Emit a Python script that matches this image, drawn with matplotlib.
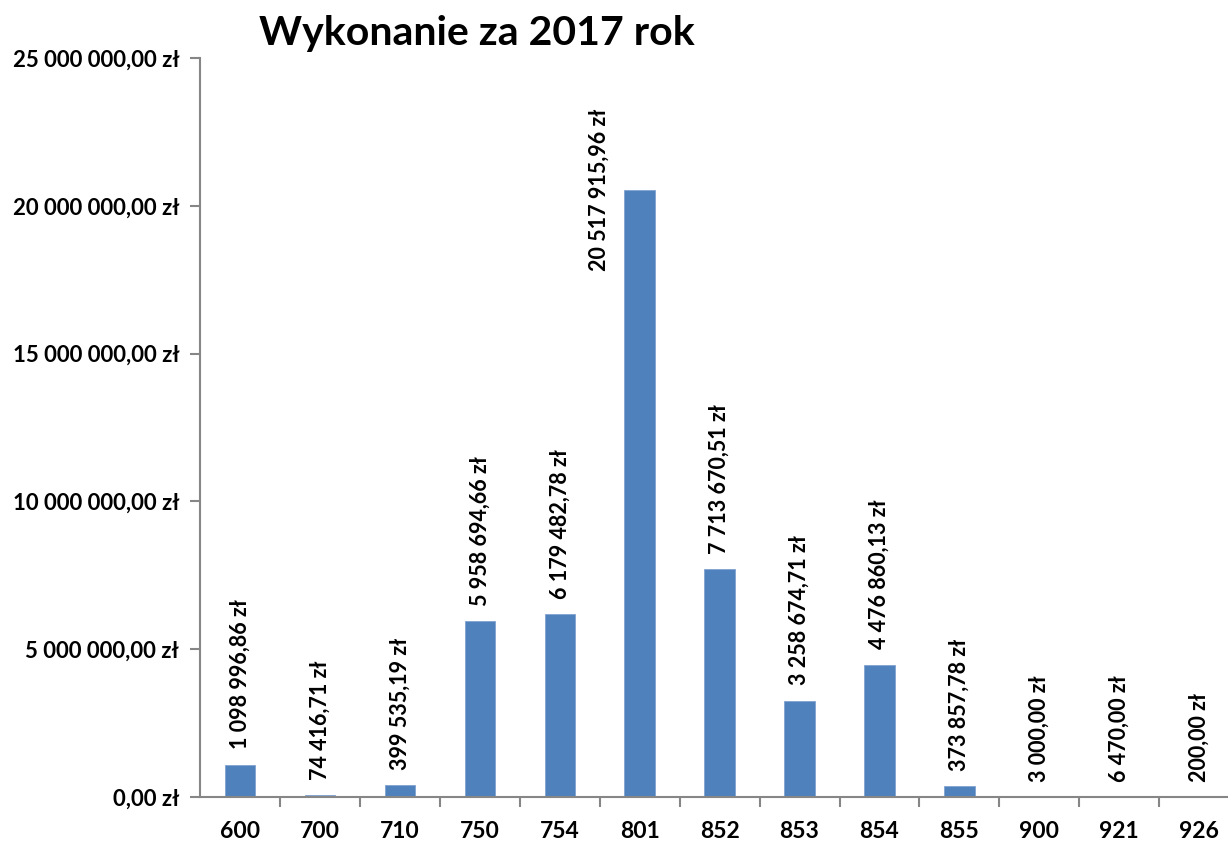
import matplotlib
matplotlib.use("Agg")
import matplotlib.pyplot as plt
from matplotlib.ticker import FuncFormatter, MultipleLocator

# dane
kategorie = ["600", "700", "710", "750", "754", "801", "852", "853", "854", "855", "900", "921", "926"]
wartosci = [1098996.86, 74416.71, 399535.19, 5958694.66, 6179482.78, 20517915.96,
            7713670.51, 3258674.71, 4476860.13, 373857.78, 3000.00, 6470.00, 200.00]
tytul = "Wykonanie za 2017 rok"

plt.rcParams['font.family'] = ['Lato', 'DejaVu Sans']
plt.rcParams['font.weight'] = 'bold'


def zl(v, pos=None):
    s = f"{v:,.2f}".replace(",", " ").replace(".", ",")
    return s + " zł"


W, H = 1228, 841
fig = plt.figure(figsize=(W / 100, H / 100), dpi=100)
ax = fig.add_axes([200 / W, 1 - 797 / H, 1 - 200 / W, (797 - 58) / H])

x = list(range(len(kategorie)))
ax.bar(x, wartosci, width=0.38, color='#4F81BD', edgecolor='#7FA3D1', linewidth=0.6)

ax.set_ylim(0, 25_000_000)
ax.set_xlim(-0.5, 12.36)
ax.yaxis.set_major_locator(MultipleLocator(5_000_000))
ax.yaxis.set_major_formatter(FuncFormatter(zl))

ax.set_xticks([i + 0.5 for i in range(len(kategorie) - 1)])
ax.set_xticklabels([])
ax.set_xticks(x, minor=True)
ax.set_xticklabels(kategorie, minor=True)
ax.tick_params(axis='x', which='minor', length=0, pad=17, labelsize=16.5)
ax.tick_params(axis='x', which='major', length=7, color='#868686', width=1.5)
ax.tick_params(axis='y', length=7, color='#868686', width=1.5, labelsize=16, pad=8)

for s in ['top', 'right']:
    ax.spines[s].set_visible(False)
for s in ['left', 'bottom']:
    ax.spines[s].set_color('#868686')
    ax.spines[s].set_linewidth(1.5)

# etykiety nad słupkami
for i, v in enumerate(wartosci):
    if i == 5:
        ax.text(i - 0.51, 17_800_000, zl(v), rotation=90, ha='center', va='bottom',
                fontsize=15.5, fontweight='bold')
    else:
        ax.annotate(zl(v), (i, v), xytext=(0, 11), textcoords='offset points',
                    rotation=90, ha='center', va='bottom', fontsize=15.5, fontweight='bold')

fig.text(477 / W, 1 - 33 / H, tytul, ha='center', va='center', fontsize=29.5, fontweight='bold')

fig.savefig("out.png", dpi=100)
